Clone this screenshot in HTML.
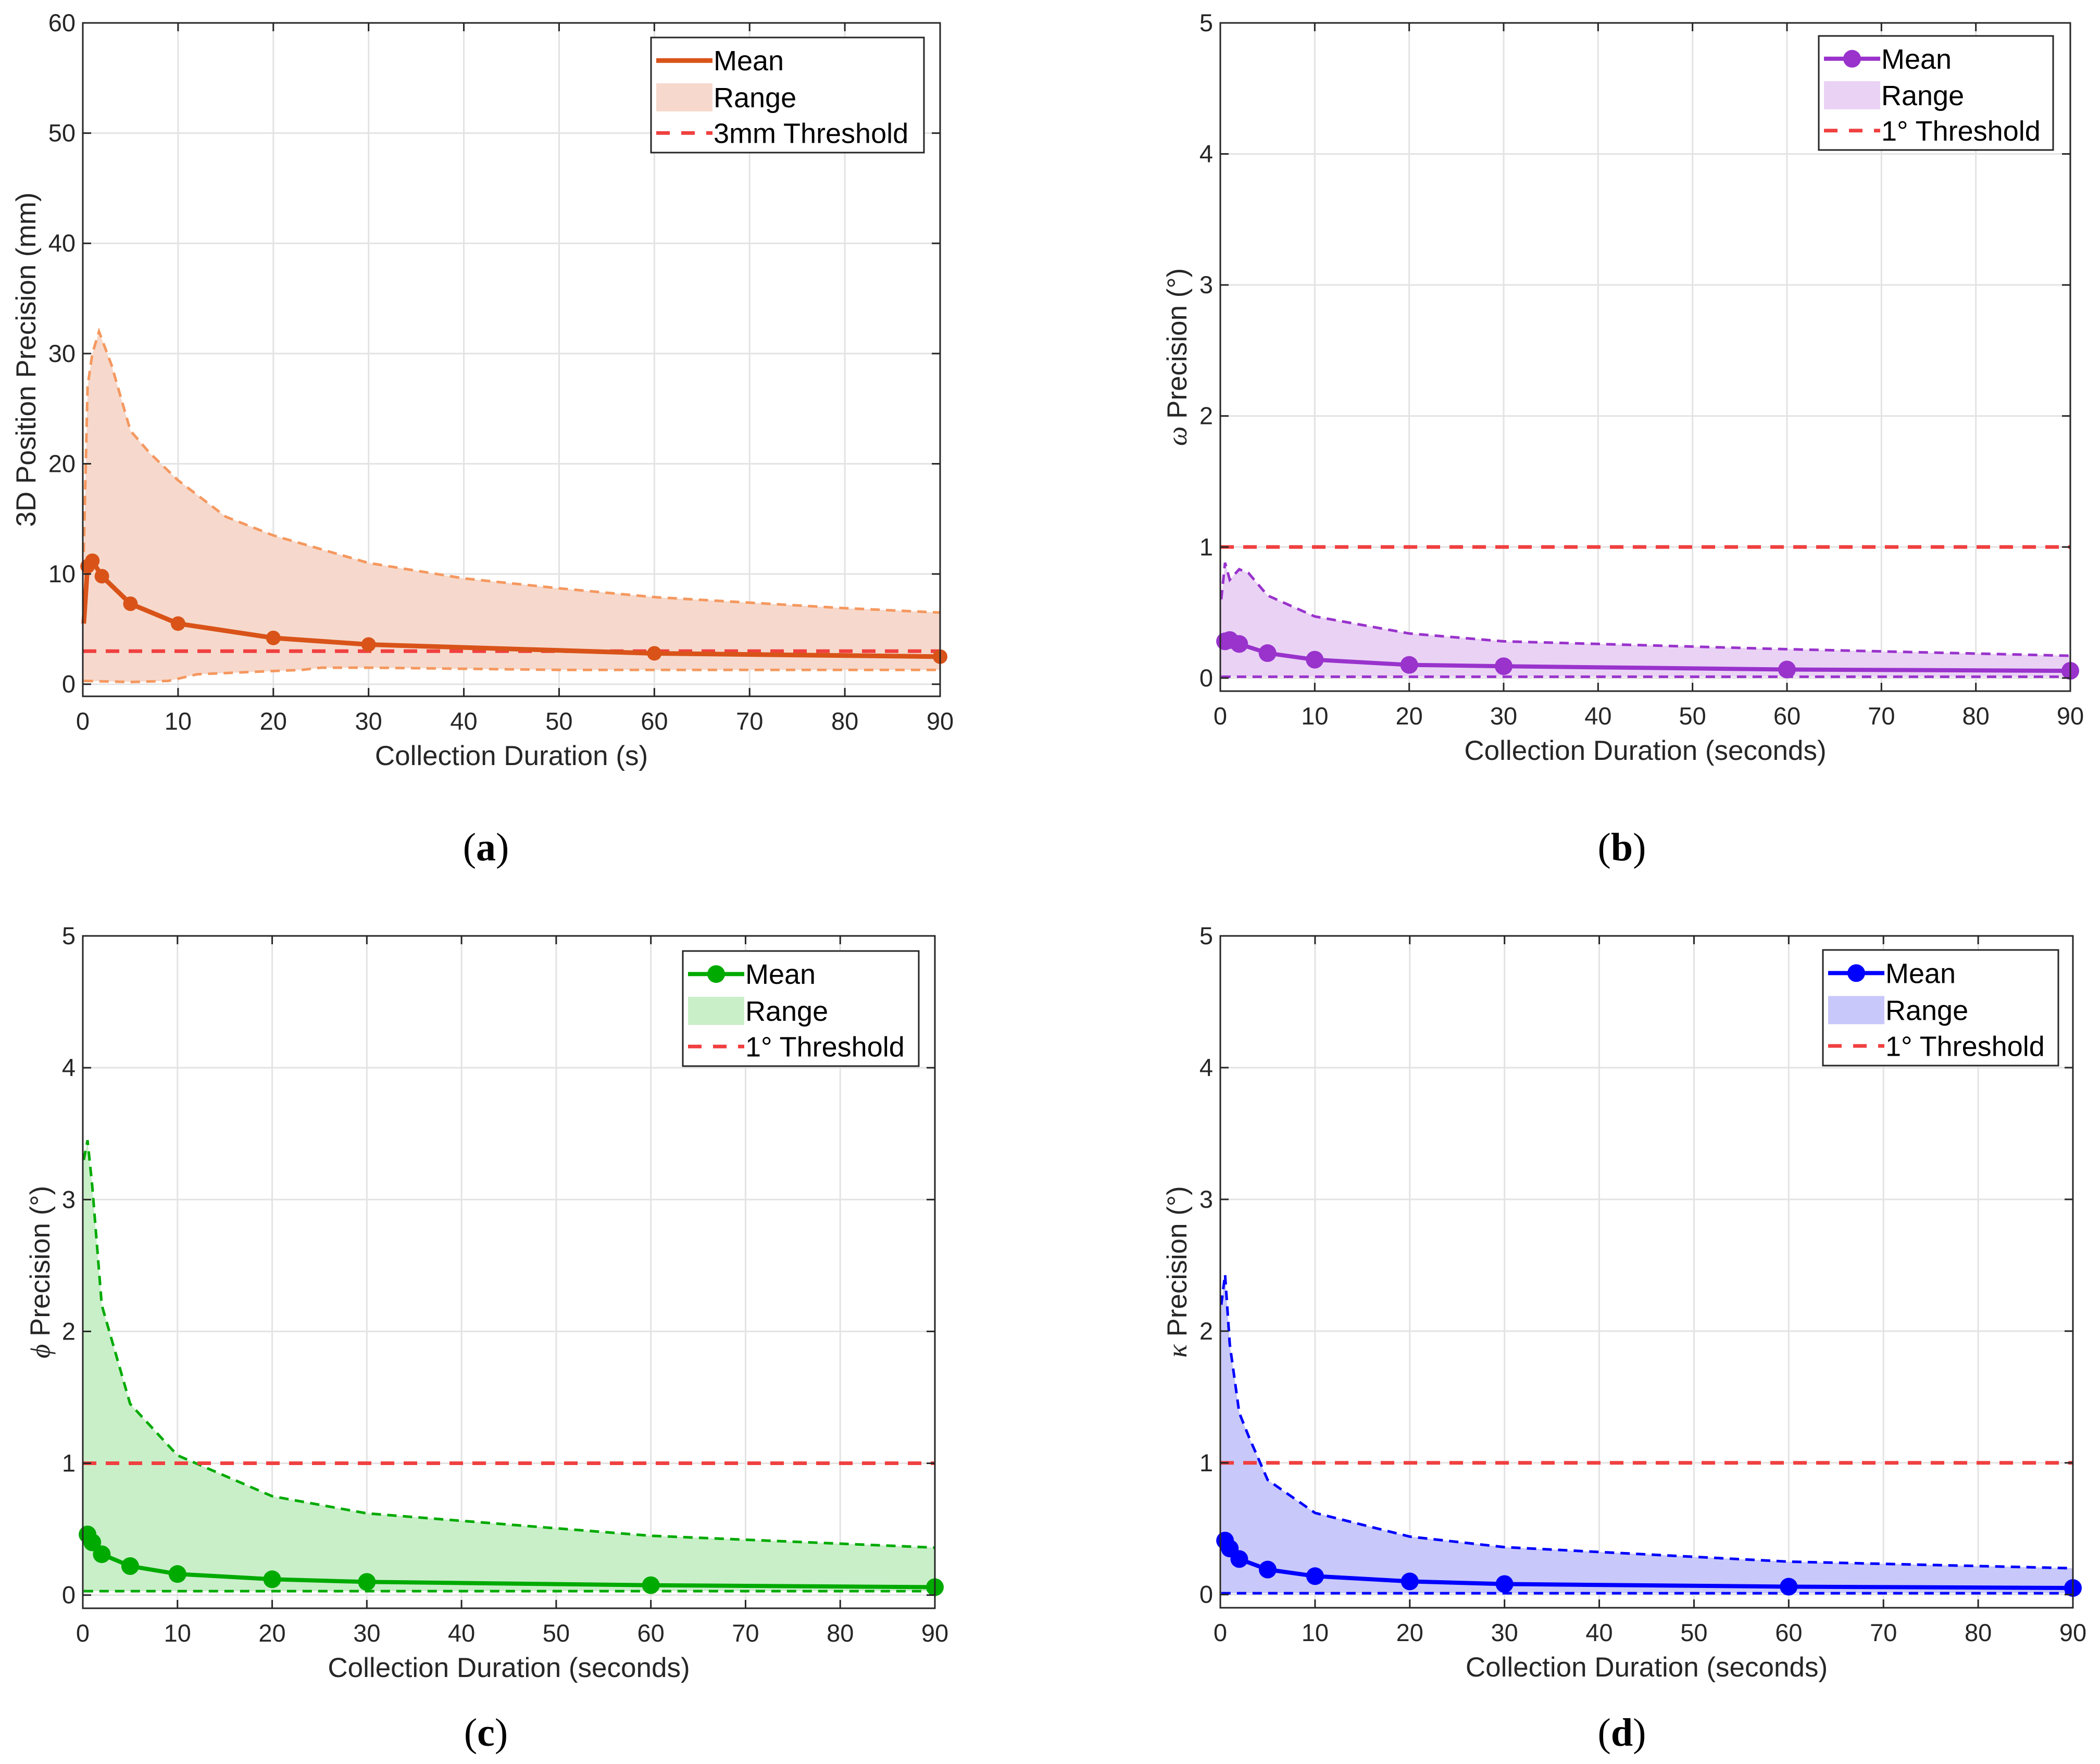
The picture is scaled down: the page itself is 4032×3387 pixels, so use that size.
<!DOCTYPE html>
<html><head><meta charset="utf-8"><style>
html,body{margin:0;padding:0;background:#fff}
svg{display:block;font-family:"Liberation Sans",sans-serif}
</style></head><body>
<svg id="fig" width="4032" height="3387" viewBox="0 0 4032 3387" xmlns="http://www.w3.org/2000/svg"></svg>
<script>
// ---- data ----
const xTicks = [0,10,20,30,40,50,60,70,80,90];
const yTicksA = [0,10,20,30,40,50,60];
const yTicksB = [0,1,2,3,4,5];
const meanXA = [0.1,0.5,1,2,5,10,20,30,60,90];
const meanA = [5.5,10.7,11.2,9.8,7.3,5.5,4.2,3.6,2.8,2.5];
const upXA = [0.1,0.5,1,1.7,3,5,7,10,15,20,30,40,50,60,70,80,90];
const upA = [12,27,30,32,29,23,21,18.5,15.2,13.5,11,9.6,8.7,7.9,7.4,6.9,6.5];
const loXA = [0.1,5,9,12,20,23,25,30,40,50,60,90];
const loA = [0.3,0.2,0.3,0.9,1.2,1.3,1.5,1.5,1.4,1.3,1.3,1.3];
const meanXB = [0.1,0.5,1,2,5,10,20,30,60,90];
const meanB = [0.27,0.28,0.29,0.26,0.19,0.14,0.10,0.09,0.065,0.055];
const upXB = [0.1,0.5,1,2,3,5,10,20,30,60,90];
const upB = [0.6,0.88,0.75,0.83,0.8,0.63,0.47,0.34,0.28,0.22,0.17];
const loXB = [0.1,90];
const loB = [0.01,0.01];
const meanXC = [0.1,0.5,1,2,5,10,20,30,60,90];
const meanC = [0.42,0.46,0.40,0.31,0.22,0.16,0.12,0.10,0.075,0.06];
const upXC = [0.1,0.5,1,2,5,10,20,30,60,90];
const upC = [3.3,3.45,3.1,2.2,1.45,1.06,0.75,0.62,0.45,0.36];
const loXC = [0.1,90];
const loC = [0.03,0.03];
const meanXD = [0.1,0.5,1,2,5,10,20,30,60,90];
const meanD = [0.35,0.41,0.35,0.27,0.19,0.14,0.10,0.08,0.06,0.05];
const upXD = [0.1,0.5,1,2,3,5,10,15,20,30,60,90];
const upD = [2.2,2.43,1.9,1.38,1.2,0.87,0.62,0.53,0.44,0.36,0.25,0.2];
const loXD = [0.1,90];
const loD = [0.01,0.01];

const NS='http://www.w3.org/2000/svg';
const svg=document.getElementById('fig');
function mk(tag,attrs,parent){const e=document.createElementNS(NS,tag);for(const k in attrs)e.setAttribute(k,attrs[k]);(parent||svg).appendChild(e);return e;}

function panel(cfg){
  const g=mk('g',{});
  
  
  const {L,R,T,B,ymin,ymax}=cfg;
  const sx=v=>L+(v-0)/(90-0)*(R-L);
  const sy=v=>B-(v-ymin)/(ymax-ymin)*(B-T);
  xTicks.forEach(t=>{const l=mk('line',{x1:sx(t),x2:sx(t),y1:T,y2:B,stroke:'#e3e3e3','stroke-width':3},g);
    });
  cfg.yTicks.forEach(t=>{const l=mk('line',{x1:L,x2:R,y1:sy(t),y2:sy(t),stroke:'#e3e3e3','stroke-width':3},g);
    });
  let d='M'+cfg.upX.map((x,i)=>sx(x)+','+sy(cfg.up[i])).join(' L');
  for(let i=cfg.loX.length-1;i>=0;i--) d+=' L'+sx(cfg.loX[i])+','+sy(cfg.lo[i]);
  d+='Z';
  const f=mk('path',{d:d,fill:cfg.fill,stroke:'none'},g);
  
  const up=mk('polyline',{points:cfg.upX.map((x,i)=>sx(x)+','+sy(cfg.up[i])).join(' '),fill:'none',stroke:cfg.dash,'stroke-width':5,'stroke-dasharray':'18 12'},g);
  
  const lo=mk('polyline',{points:cfg.loX.map((x,i)=>sx(x)+','+sy(cfg.lo[i])).join(' '),fill:'none',stroke:cfg.dash,'stroke-width':5,'stroke-dasharray':'18 12'},g);
  
  const th=mk('line',{x1:L,x2:R,y1:sy(cfg.thr),y2:sy(cfg.thr),stroke:'#f04040','stroke-width':7,'stroke-dasharray':'26 18'},g);
  
  const m=mk('polyline',{points:cfg.meanX.map((x,i)=>sx(x)+','+sy(cfg.mean[i])).join(' '),fill:'none',stroke:cfg.col,'stroke-width':cfg.lw,'stroke-linejoin':'round'},g);
  
  cfg.meanX.forEach((x,i)=>{if(i===0)return;
    const c=mk('circle',{cx:sx(x),cy:sy(cfg.mean[i]),r:cfg.mr,fill:cfg.col},g);
    });
  const bx=mk('rect',{x:L,y:T,width:R-L,height:B-T,fill:'none',stroke:'#262626','stroke-width':3},g);
  
  xTicks.forEach(t=>{
    mk('line',{x1:sx(t),x2:sx(t),y1:B,y2:B-16,stroke:'#262626','stroke-width':3},g);
    mk('line',{x1:sx(t),x2:sx(t),y1:T,y2:T+16,stroke:'#262626','stroke-width':3},g);
    const tx=mk('text',{x:sx(t),y:B+64,'font-size':47,'text-anchor':'middle',fill:'#262626'},g);tx.textContent=t;
    });
  cfg.yTicks.forEach(t=>{
    mk('line',{x1:L,x2:L+16,y1:sy(t),y2:sy(t),stroke:'#262626','stroke-width':3},g);
    mk('line',{x1:R,x2:R-16,y1:sy(t),y2:sy(t),stroke:'#262626','stroke-width':3},g);
    const tx=mk('text',{x:L-14,y:sy(t)+16,'font-size':47,'text-anchor':'end',fill:'#262626'},g);tx.textContent=t;
    });
  const xl=mk('text',{x:(L+R)/2,y:B+132,'font-size':53,'text-anchor':'middle',fill:'#262626'},g);xl.textContent=cfg.xlabel;
  
  const yl=mk('text',{x:0,y:0,'font-size':53,'text-anchor':'middle',fill:'#262626',transform:`translate(${cfg.ylx},${(T+B)/2}) rotate(-90)`},g);
  yl.innerHTML=cfg.ylabel;
  
  const [lx,ly,lw,lh]=cfg.leg;
  const lg=mk('g',{},g);
  mk('rect',{x:lx,y:ly,width:lw,height:lh,fill:'#fff',stroke:'#262626','stroke-width':3},lg);
  const rows=[ly+lh*0.2,ly+lh*0.52,ly+lh*0.83];
  mk('line',{x1:lx+10,x2:lx+118,y1:rows[0],y2:rows[0],stroke:cfg.col,'stroke-width':cfg.lw},lg);
  if(cfg.mr>14)mk('circle',{cx:lx+64,cy:rows[0],r:cfg.mr,fill:cfg.col},lg);
  mk('rect',{x:lx+10,y:rows[1]-27,width:108,height:54,fill:cfg.fill},lg);
  mk('line',{x1:lx+10,x2:lx+118,y1:rows[2],y2:rows[2],stroke:'#f04040','stroke-width':7,'stroke-dasharray':'26 22'},lg);
  ['Mean','Range',cfg.thrLabel].forEach((s,i)=>{const t=mk('text',{x:lx+120,y:rows[i]+19,'font-size':54,fill:'#000'},lg);t.textContent=s;
    });
  const cap=mk('text',{x:cfg.capX,y:cfg.capY,'font-size':76,'text-anchor':'middle','font-family':'Liberation Serif, serif',fill:'#000'},g);
  cap.innerHTML='(<tspan font-weight="bold">'+cfg.id+'</tspan>)';
  
}

panel({id:'a',L:159,R:1805,T:44,B:1337,ymin:-1.1,ymax:60,yTicks:yTicksA,meanX:meanXA,mean:meanA,upX:upXA,up:upA,loX:loXA,lo:loA,
  thr:3,col:'#d95319',dash:'#f5985f',fill:'#f6d9cc',lw:9,mr:14,xlabel:'Collection Duration (s)',ylabel:'3D Position Precision (mm)',ylx:68,
  leg:[1250,72,524,221],thrLabel:'3mm Threshold',capX:933,capY:1652});
panel({id:'b',L:2343,R:3975,T:44,B:1327,ymin:-0.1,ymax:5,yTicks:yTicksB,meanX:meanXB,mean:meanB,upX:upXB,up:upB,loX:loXB,lo:loB,
  thr:1,col:'#9933cc',dash:'#9933cc',fill:'#ead2f5',lw:8,mr:17,xlabel:'Collection Duration (seconds)',ylabel:'<tspan font-style="italic" font-family="Liberation Serif, serif">ω</tspan> Precision (°)',ylx:2278,
  leg:[3492,69,450,219],thrLabel:'1° Threshold',capX:3114,capY:1652});
panel({id:'c',L:159,R:1795,T:1797,B:3088,ymin:-0.1,ymax:5,yTicks:yTicksB,meanX:meanXC,mean:meanC,upX:upXC,up:upC,loX:loXC,lo:loC,
  thr:1,col:'#00aa00',dash:'#00aa00',fill:'#c9efc9',lw:8,mr:17,xlabel:'Collection Duration (seconds)',ylabel:'<tspan font-style="italic" font-family="Liberation Serif, serif">ϕ</tspan> Precision (°)',ylx:95,
  leg:[1311,1826,453,221],thrLabel:'1° Threshold',capX:933,capY:3352});
panel({id:'d',L:2343,R:3980,T:1797,B:3087,ymin:-0.1,ymax:5,yTicks:yTicksB,meanX:meanXD,mean:meanD,upX:upXD,up:upD,loX:loXD,lo:loD,
  thr:1,col:'#0000ff',dash:'#0000ff',fill:'#c8c8fa',lw:8,mr:17,xlabel:'Collection Duration (seconds)',ylabel:'<tspan font-style="italic" font-family="Liberation Serif, serif">κ</tspan> Precision (°)',ylx:2278,
  leg:[3500,1824,452,222],thrLabel:'1° Threshold',capX:3114,capY:3352});
</script>
</body></html>
